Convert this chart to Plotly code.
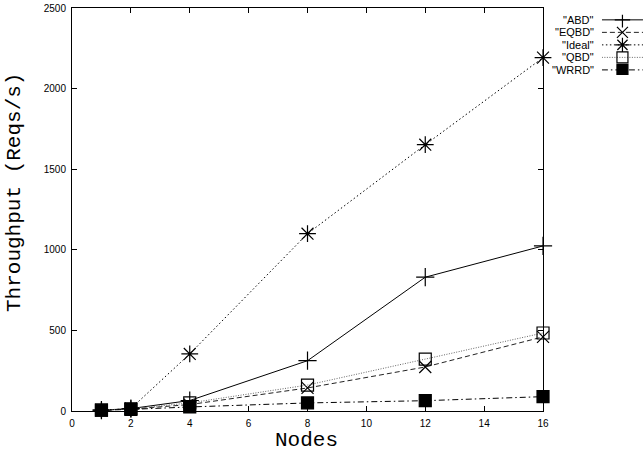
import plotly.graph_objects as go

nodes = [1, 2, 4, 8, 12, 16]
abd = [5, 15, 65, 312, 830, 1024]
eqbd = [5, 12, 40, 143, 273, 460]
ideal = [5, 15, 354, 1100, 1652, 2192]
qbd = [5, 14, 50, 161, 322, 484]
wrrd = [5, 10, 25, 50, 64, 89]

series_names = ['"ABD"', '"EQBD"', '"Ideal"', '"QBD"', '"WRRD"']
series_values = [abd, eqbd, ideal, qbd, wrrd]
dashes = ["solid", "5px,3px", "1.5px,2.5px", "1px,1.5px", "6px,3px,1.5px,3px"]
colors = ["black", "#222222", "black", "#666666", "black"]
symbols = ["cross-thin-open", "x-thin-open", "asterisk-open", "square-open", "square"]
sizes = [13, 12, 14, 12, 12]
legend_sizes = [11, 11, 12, 11, 11]

x_ticks = [0, 2, 4, 6, 8, 10, 12, 14, 16]
y_ticks = [0, 500, 1000, 1500, 2000, 2500]

fig = go.Figure()
for name, vals, d, c, s, sz in zip(series_names, series_values, dashes, colors, symbols, sizes):
    fig.add_trace(go.Scatter(
        x=nodes, y=vals, mode="lines+markers", name=name, showlegend=False,
        line=dict(color=c, width=1, dash=d),
        marker=dict(symbol=s, size=sz, color="black", line=dict(color="black", width=1.2)),
        xaxis="x", yaxis="y", cliponaxis=False,
    ))

# custom gnuplot-style legend (text left, sample right)
for i, (name, d, c, s, sz) in enumerate(zip(series_names, dashes, colors, symbols, legend_sizes)):
    fig.add_trace(go.Scatter(
        x=[0, 1, 2], y=[i, i, i], mode="lines", showlegend=False,
        line=dict(color=c, width=1, dash=d), xaxis="x2", yaxis="y2", hoverinfo="skip",
    ))
    fig.add_trace(go.Scatter(
        x=[1], y=[i], mode="markers", showlegend=False,
        marker=dict(symbol=s, size=sz, color="black", line=dict(color="black", width=1.2)),
        xaxis="x2", yaxis="y2", hoverinfo="skip",
    ))
    fig.add_annotation(x=0.917, y=i, xref="paper", yref="y2", text=name, showarrow=False,
                       xanchor="right", yanchor="middle",
                       font=dict(family="Liberation Sans", size=11, color="black"))

fig.add_annotation(x=0.41, y=-0.072, xref="paper", yref="paper", text="Nodes",
                   showarrow=False, xanchor="center", yanchor="middle",
                   font=dict(family="Liberation Mono", size=21, color="black"))
fig.add_annotation(x=-0.0998, y=0.541, xref="paper", yref="paper", text="Throughput (Reqs/s)",
                   showarrow=False, xanchor="center", yanchor="middle", textangle=-90,
                   font=dict(family="Liberation Mono", size=21, color="black"))

axis_common = dict(
    showline=True, linecolor="black", linewidth=1, mirror="allticks",
    ticks="inside", ticklen=5, tickcolor="black", showgrid=False, zeroline=False,
    automargin=False,
    tickfont=dict(family="Liberation Sans", size=10, color="black"),
)

fig.update_layout(
    width=643, height=453,
    margin=dict(l=72, r=0, t=8, b=42),
    plot_bgcolor="white", paper_bgcolor="white",
    xaxis=dict(range=[0, 16], tickvals=x_ticks, domain=[0, 0.8249], ticklabelstandoff=3,
               **axis_common),
    yaxis=dict(range=[0, 2500], tickvals=y_ticks, ticklabelstandoff=3,
               **axis_common),
    xaxis2=dict(domain=[0.928, 1.0], range=[0, 2], visible=False, anchor="y2"),
    yaxis2=dict(domain=[0.834, 0.983], range=[4.4, -0.4], visible=False, anchor="x2"),
)

fig.write_html("out.html", config={"displayModeBar": False},
               post_script="document.body.style.margin='0';")
